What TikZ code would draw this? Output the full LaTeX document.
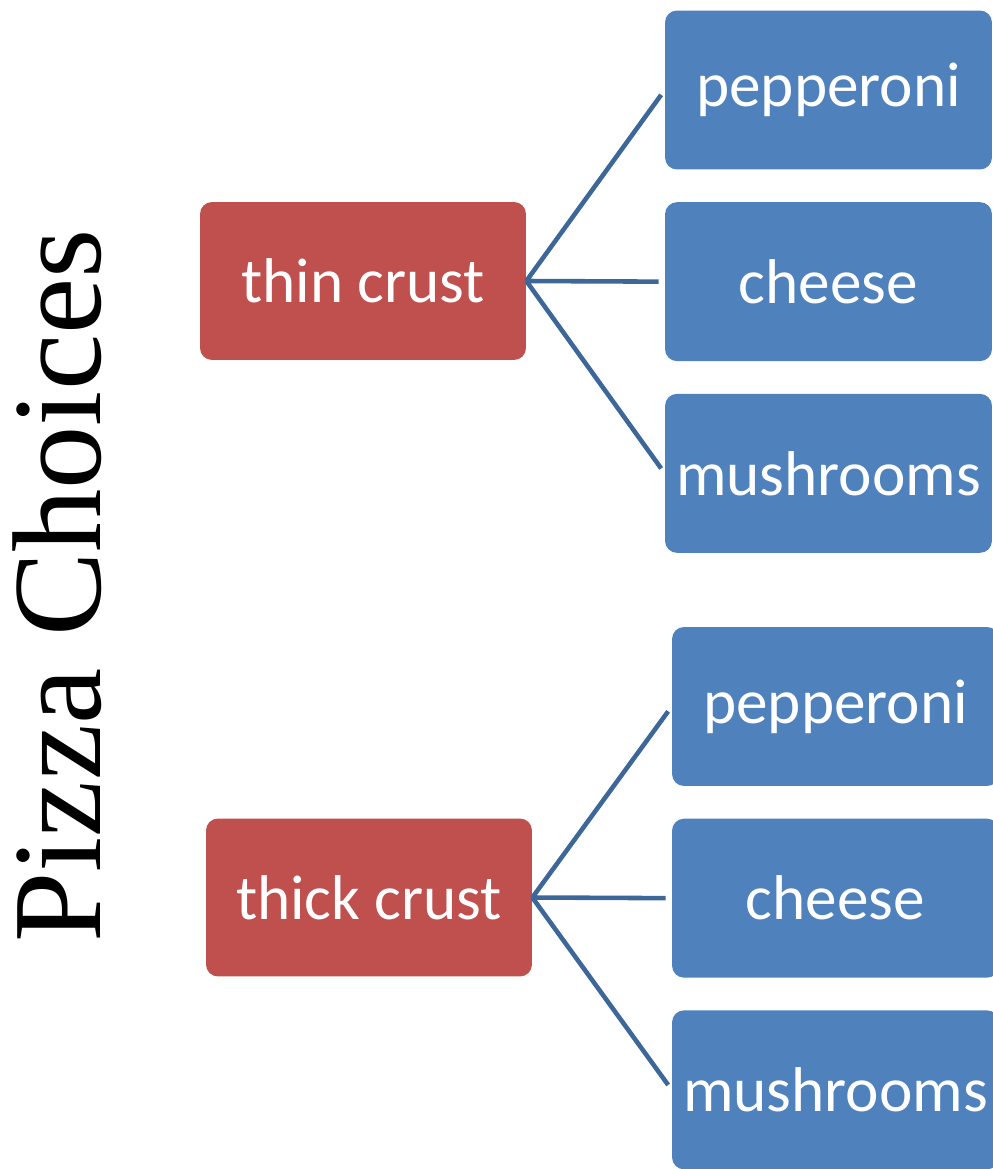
\documentclass[tikz,border=0pt]{standalone}
\usepackage{fontspec}
\setmainfont{Liberation Serif}
\newfontfamily\boxfont{Carlito}
\usepackage{tikz}
\usetikzlibrary{
    positioning
}
\definecolor{crustred}{HTML}{C0504D}
\definecolor{toppingblue}{HTML}{4F81BD}
\definecolor{linkblue}{HTML}{3D6798}
\tikzstyle{crust} = [
    rectangle,
    rounded corners=0.24cm,
    fill=crustred,
    text=white,
    minimum width=6.52cm,
    minimum height=3.16cm,
    font=\boxfont\fontsize{36}{40}\selectfont
]
\tikzstyle{topping} = [
    rectangle,
    rounded corners=0.24cm,
    fill=toppingblue,
    text=white,
    minimum width=6.54cm,
    minimum height=3.18cm,
    font=\boxfont\fontsize{36}{40}\selectfont
]
\tikzstyle{branch} = [
    line width=2.6pt,
    draw=linkblue,
    shorten >=0.12cm
]

\begin{document}
\begin{tikzpicture}[x=0.02cm, y=-0.02cm]
    \useasboundingbox (0,0) rectangle (993,1169);
    \clip (0,0) rectangle (993,1169);

    % Title
    \node[rotate=90, anchor=base, font=\fontsize{72}{80}\selectfont] (title) at (100,586) {Pizza Choices};

    % Thin crust
    \node[crust] (thin) at (363,281) {thin crust};
    \node[topping] (thinpep) at (828.5,90) {pepperoni};
    \node[topping, below=0.64cm of thinpep] (thinche) {cheese};
    \node[topping, below=0.64cm of thinche] (thinmus) {mushrooms};

    % Thick crust
    \node[crust] (thick) at (369,897.5) {thick crust};
    \node[topping] (thickpep) at (835.5,706.5) {pepperoni};
    \node[topping, below=0.64cm of thickpep] (thickche) {cheese};
    \node[topping, below=0.64cm of thickche] (thickmus) {mushrooms};

    % Branches
    \draw[branch] (thin.east) -- (thinpep.west);
    \draw[branch] (thin.east) -- (thinche.west);
    \draw[branch] (thin.east) -- (thinmus.west);
    \draw[branch] (thick.east) -- (thickpep.west);
    \draw[branch] (thick.east) -- (thickche.west);
    \draw[branch] (thick.east) -- (thickmus.west);
\end{tikzpicture}
\end{document}
